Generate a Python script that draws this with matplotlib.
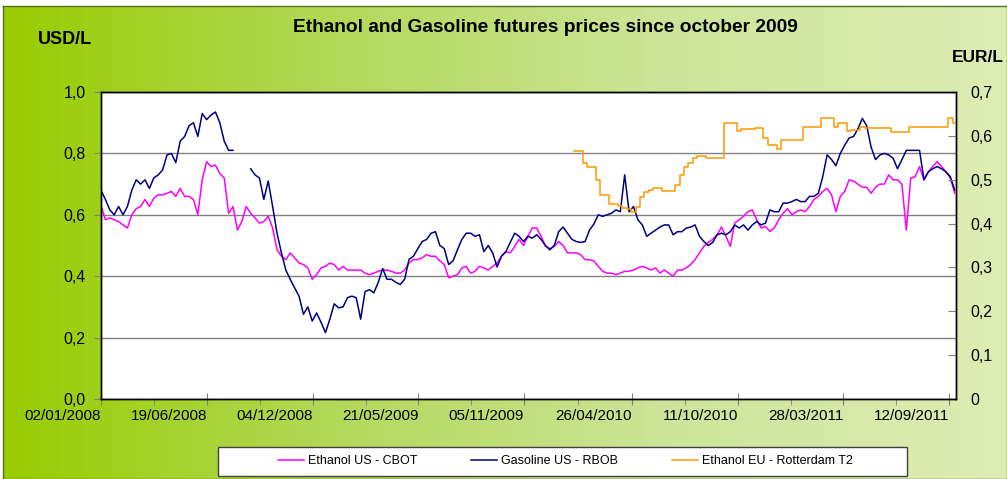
import numpy as np
import pandas as pd
import matplotlib
matplotlib.use('Agg')
import matplotlib.pyplot as plt
from matplotlib.colors import LinearSegmentedColormap
from matplotlib.patches import Rectangle

plt.rcParams['font.family'] = ['Liberation Sans', 'DejaVu Sans']

nan = np.nan

# weekly samples (USD/L for the US series, EUR/L for Rotterdam)
dates = pd.date_range('2008-01-02', periods=195, freq='7D')

ethanol_us = [
    0.63, 0.584, 0.59, 0.584, 0.578, 0.567, 0.557, 0.60, 0.62, 0.627,
    0.65, 0.627, 0.654, 0.665, 0.665, 0.67, 0.676, 0.66, 0.686, 0.66,
    0.66, 0.65, 0.60, 0.714, 0.773, 0.757, 0.762, 0.735, 0.72, 0.605,
    0.627, 0.55, 0.578, 0.627, 0.605, 0.59, 0.573, 0.578, 0.595, 0.557,
    0.486, 0.465, 0.454, 0.476, 0.46, 0.443, 0.438, 0.427, 0.39, 0.405,
    0.427, 0.432, 0.443, 0.438, 0.42, 0.432, 0.42, 0.42, 0.42, 0.42,
    0.41, 0.405, 0.41, 0.416, 0.42, 0.42, 0.416, 0.41, 0.41, 0.42,
    0.443, 0.454, 0.454, 0.46, 0.47, 0.465, 0.465, 0.45, 0.438, 0.395,
    0.40, 0.405, 0.427, 0.432, 0.41, 0.416, 0.432, 0.427, 0.42, 0.432,
    0.443, 0.465, 0.48, 0.476, 0.497, 0.52, 0.50, 0.53, 0.557, 0.557,
    0.53, 0.497, 0.49, 0.497, 0.513, 0.50, 0.476, 0.476, 0.476, 0.47,
    0.454, 0.454, 0.45, 0.432, 0.416, 0.41, 0.41, 0.405, 0.41, 0.416,
    0.416, 0.42, 0.427, 0.432, 0.427, 0.42, 0.427, 0.41, 0.42, 0.41,
    0.40, 0.42, 0.42, 0.427, 0.438, 0.454, 0.476, 0.497, 0.51, 0.52,
    0.535, 0.56, 0.53, 0.497, 0.573, 0.584, 0.595, 0.61, 0.616, 0.584,
    0.557, 0.562, 0.546, 0.557, 0.584, 0.605, 0.62, 0.60, 0.61, 0.616,
    0.61, 0.627, 0.65, 0.66, 0.676, 0.686, 0.665, 0.61, 0.66, 0.676,
    0.714, 0.71, 0.70, 0.69, 0.69, 0.67, 0.69, 0.70, 0.70, 0.73,
    0.714, 0.714, 0.70, 0.55, 0.72, 0.724, 0.757, 0.714, 0.74, 0.757,
    0.773, 0.757, 0.74, 0.72, 0.67,
]

gasoline_us = [
    0.68, 0.65, 0.616, 0.60, 0.627, 0.60, 0.627, 0.68, 0.714, 0.70,
    0.714, 0.686, 0.72, 0.73, 0.746, 0.795, 0.80, 0.77, 0.84, 0.855,
    0.89, 0.90, 0.855, 0.93, 0.91, 0.925, 0.935, 0.90, 0.84, 0.81,
    0.81, nan, nan, nan, 0.75, 0.73, 0.72, 0.65, 0.71, 0.627,
    0.54, 0.476, 0.42, 0.39, 0.362, 0.335, 0.276, 0.30, 0.254, 0.28,
    0.25, 0.216, 0.26, 0.31, 0.297, 0.30, 0.33, 0.335, 0.33, 0.26,
    0.35, 0.356, 0.346, 0.38, 0.425, 0.39, 0.39, 0.38, 0.373, 0.39,
    0.455, 0.465, 0.49, 0.513, 0.52, 0.54, 0.545, 0.50, 0.49, 0.438,
    0.45, 0.486, 0.52, 0.54, 0.54, 0.53, 0.535, 0.48, 0.50, 0.476,
    0.43, 0.465, 0.48, 0.51, 0.54, 0.53, 0.513, 0.53, 0.524, 0.535,
    0.52, 0.50, 0.486, 0.50, 0.545, 0.56, 0.54, 0.52, 0.513, 0.51,
    0.513, 0.55, 0.57, 0.60, 0.595, 0.60, 0.605, 0.616, 0.61, 0.73,
    0.61, 0.627, 0.584, 0.567, 0.53, 0.54, 0.55, 0.56, 0.567, 0.567,
    0.535, 0.545, 0.545, 0.557, 0.56, 0.567, 0.53, 0.513, 0.50, 0.51,
    0.535, 0.54, 0.535, 0.545, 0.567, 0.557, 0.567, 0.55, 0.567, 0.578,
    0.567, 0.573, 0.616, 0.61, 0.61, 0.638, 0.638, 0.643, 0.65, 0.643,
    0.643, 0.66, 0.66, 0.67, 0.724, 0.795, 0.78, 0.76, 0.80, 0.827,
    0.85, 0.855, 0.88, 0.914, 0.89, 0.82, 0.78, 0.795, 0.80, 0.795,
    0.784, 0.75, 0.78, 0.81, 0.81, 0.81, 0.81, 0.714, 0.74, 0.75,
    0.757, 0.75, 0.74, 0.724, 0.68,
]

ethanol_eu = [nan] * 108 + [
    0.566, 0.565,
    0.537, 0.530, 0.528, 0.499, 0.465, 0.465, 0.445, 0.445, 0.44, 0.435,
    0.433, 0.427, 0.438, 0.461, 0.473, 0.477, 0.48, 0.48, 0.475, 0.475,
    0.475, 0.488, 0.511, 0.530, 0.537, 0.549, 0.554, 0.554, 0.549, 0.549,
    0.549, 0.549, 0.63, 0.63, 0.63, 0.61, 0.615, 0.615, 0.615, 0.617,
    0.617, 0.594, 0.579, 0.579, 0.569, 0.591, 0.591, 0.591, 0.591, 0.591,
    0.62, 0.62, 0.62, 0.62, 0.64, 0.64, 0.64, 0.621, 0.629, 0.629,
    0.61, 0.613, 0.613, 0.62, 0.617, 0.617, 0.617, 0.617, 0.617, 0.617,
    0.609, 0.609, 0.609, 0.609, 0.621, 0.621, 0.621, 0.621, 0.621, 0.621,
    0.621, 0.621, 0.621, 0.64, 0.63,
]

tick_labels = ['02/01/2008', '19/06/2008', '04/12/2008', '21/05/2009', '05/11/2009',
               '26/04/2010', '11/10/2010', '28/03/2011', '12/09/2011']
tick_dates = pd.to_datetime(tick_labels, dayfirst=True)
minor_dates = tick_dates[:-1] + (tick_dates[1:] - tick_dates[:-1]) / 2

W, H = 1007, 479
fig = plt.figure(figsize=(W / 100, H / 100), dpi=100)

# green gradient background with a thin dark border
bg = fig.add_axes([3 / W, 0, 1 - 3 / W, 1 - 6 / H])
cmap = LinearSegmentedColormap.from_list('bg', ['#99cc00', '#b3d95a', '#cde59a', '#deedb4'])
bg.imshow(np.linspace(0, 1, 256).reshape(1, -1), aspect='auto', cmap=cmap, extent=[0, 1, 0, 1])
bg.set_xticks([])
bg.set_yticks([])
for s in bg.spines.values():
    s.set_color('#5a6e1e')
    s.set_linewidth(1)

ax = fig.add_axes([101 / W, 1 - 399 / H, 855 / W, 307 / H])
ax.set_facecolor('white')
l1, = ax.plot(dates, ethanol_us, color='#ff00ff', lw=1.1, label='Ethanol US - CBOT')
l2, = ax.plot(dates, gasoline_us, color='#000080', lw=1.1, label='Gasoline US - RBOB')
ax2 = ax.twinx()
l3, = ax2.plot(dates, ethanol_eu, color='#ff9900', lw=1.1, drawstyle='steps-mid',
               label='Ethanol EU - Rotterdam T2')

ax.set_xlim(pd.Timestamp('2008-01-02'), pd.Timestamp('2008-01-02') + pd.Timedelta(days=1360))
ax.set_ylim(0, 1.0)
ax2.set_ylim(0, 0.7)

yt = np.round(np.arange(0, 1.01, 0.2), 1)
ax.set_yticks(yt, labels=[f'{v:.1f}'.replace('.', ',') for v in yt], fontsize=11.5)
ax.grid(axis='y', color='#808080', lw=1)
ax.set_axisbelow(True)
ax.tick_params(axis='y', direction='out', length=5, color='#808080', pad=6)

rt = np.round(np.arange(0, 0.71, 0.1), 1)
ax2.set_yticks(rt, labels=['0' if v == 0 else f'{v:.1f}'.replace('.', ',') for v in rt], fontsize=11.5)
ax2.tick_params(axis='y', direction='in', length=6, color='#808080', pad=10)

ax.set_xticks(tick_dates, labels=tick_labels, fontsize=11, ha='right')
ax.set_xticks(minor_dates, minor=True)
ax.tick_params(axis='x', which='major', direction='inout', length=8, color='#808080', pad=3)
ax.tick_params(axis='x', which='minor', direction='out', length=4, color='#808080')

for a in (ax, ax2):
    for s in a.spines.values():
        s.set_color('black')
        s.set_linewidth(1)

fig.text(545 / W, 1 - 28 / H, 'Ethanol and Gasoline futures prices since october 2009',
         ha='center', va='center', fontsize=13.8, fontweight='bold')
fig.text(65 / W, 1 - 40 / H, 'USD/L', ha='center', va='center', fontsize=13, fontweight='bold')
fig.text(1004 / W, 1 - 57 / H, 'EUR/L', ha='right', va='center', fontsize=12.5, fontweight='bold')

# legend box
fig.patches.append(Rectangle((218 / W, 1 - 476 / H), 689 / W, 29 / H, transform=fig.transFigure,
                             facecolor='white', edgecolor='#404040', lw=1, zorder=1))
fig.legend(handles=[l1, l2, l3], loc='center', bbox_to_anchor=(565 / W, 1 - 461.5 / H),
           ncol=3, frameon=False, fontsize=9, handlelength=2.1, handletextpad=0.3,
           columnspacing=4.3)

fig.savefig('out.png', dpi=100)
